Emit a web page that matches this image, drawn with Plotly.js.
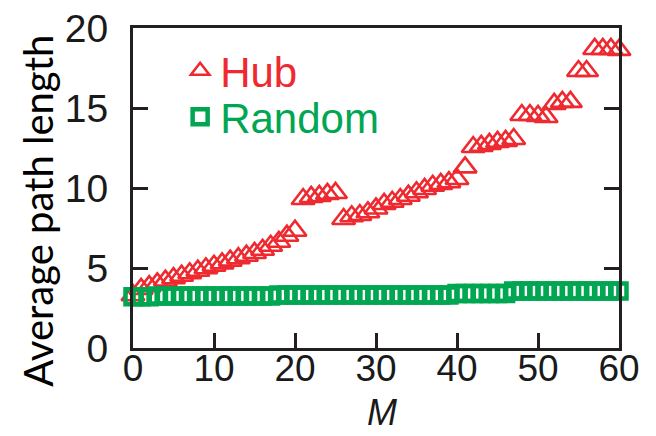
<!DOCTYPE html>
<html>
<head>
<meta charset="utf-8">
<script src="https://cdn.plot.ly/plotly-3.0.1.min.js"></script>
<style>
  html, body { margin: 0; padding: 0; background: #ffffff; }
  #chart { width: 656px; height: 436px; }
</style>
</head>
<body>
<div id="chart"></div>
<script>
// M values (x categories)
const mValues = [0,1,2,3,4,5,6,7,8,9,10,11,12,13,14,15,16,17,18,19,20,
  21,22,23,24,25,26,27,28,29,30,31,32,33,34,35,36,37,38,39,40,
  41,42,43,44,45,46,47,48,49,50,51,52,53,54,55,56,57,58,59,60];

// Average path length, Hub
const hubValues = [3.3,3.69,3.86,4.04,4.21,4.36,4.52,4.67,4.83,4.98,5.14,
  5.29,5.46,5.61,5.77,5.94,6.14,6.39,6.64,7.02,7.33,
  9.31,9.44,9.5,9.63,9.69,8.06,8.23,8.31,8.48,8.72,
  9.0,9.14,9.31,9.52,9.73,9.94,10.14,10.25,10.36,10.56,
  11.29,12.56,12.63,12.75,12.88,12.94,13.06,14.56,14.56,14.5,
  14.44,15.25,15.38,15.38,17.31,17.31,18.69,18.69,18.69,18.63];

// Average path length, Random
const randomValues = [3.2,3.2,3.2,3.25,3.25,3.25,3.25,3.25,3.25,3.25,3.25,
  3.25,3.25,3.25,3.25,3.25,3.25,3.25,3.31,3.31,3.31,
  3.31,3.31,3.31,3.31,3.31,3.31,3.31,3.31,3.31,3.31,
  3.31,3.31,3.31,3.31,3.31,3.31,3.31,3.31,3.31,3.4,
  3.4,3.4,3.4,3.4,3.4,3.4,3.56,3.56,3.56,3.56,
  3.56,3.56,3.56,3.56,3.56,3.56,3.56,3.56,3.56,3.56];

const xTicks = [0,10,20,30,40,50,60];
const yTicks = [0,5,10,15,20];

const RED = '#ee2a30';
const GREEN = '#00a651';

const traces = [
  {
    x: mValues, y: hubValues, name: 'Hub', type: 'scatter', mode: 'markers',
    cliponaxis: false, legend: 'legend',
    marker: { symbol: 'triangle-up-open', size: 20, color: RED, line: { width: 2.6, color: RED } }
  },
  {
    x: mValues, y: randomValues, name: 'Random', type: 'scatter', mode: 'markers',
    cliponaxis: false, legend: 'legend2',
    marker: { symbol: 'square-open', size: 15, color: GREEN, line: { width: 4.5, color: GREEN } }
  }
];

const yTickFont = { family: 'Liberation Sans, Arial, sans-serif', size: 39, color: '#1a1a1a' };
const xTickFont = { family: 'Liberation Sans, Arial, sans-serif', size: 37, color: '#1a1a1a' };

const layout = {
  width: 656, height: 436,
  margin: { l: 133, r: 37, t: 28, b: 88, pad: 0 },
  paper_bgcolor: '#ffffff', plot_bgcolor: '#ffffff',
  showlegend: true,
  legend: {
    x: 0.097, y: 0.972, xanchor: 'left', yanchor: 'top',
    bgcolor: 'rgba(0,0,0,0)', borderwidth: 0,
    font: { family: 'Liberation Sans, Arial, sans-serif', size: 42, color: RED }
  },
  legend2: {
    x: 0.097, y: 0.828, xanchor: 'left', yanchor: 'top',
    bgcolor: 'rgba(0,0,0,0)', borderwidth: 0,
    font: { family: 'Liberation Sans, Arial, sans-serif', size: 42, color: GREEN }
  },
  xaxis: {
    range: [0, 60], tickmode: 'array', tickvals: xTicks, ticktext: xTicks.map(String),
    ticks: 'inside', ticklen: 15, tickwidth: 3, tickcolor: '#231f20',
    showline: true, linewidth: 3, linecolor: '#231f20', mirror: true,
    showgrid: false, zeroline: false, tickfont: xTickFont, ticklabelstandoff: -14
  },
  yaxis: {
    range: [0, 20], tickmode: 'array', tickvals: yTicks, ticktext: yTicks.map(String),
    ticks: 'inside', ticklen: 15, tickwidth: 3, tickcolor: '#231f20',
    showline: true, linewidth: 3, linecolor: '#231f20', mirror: 'ticks',
    showgrid: false, zeroline: false, tickfont: yTickFont, ticklabelstandoff: 14
  },
  annotations: [
    {
      text: 'Average path length', textangle: -90, showarrow: false,
      xref: 'paper', yref: 'paper', x: -0.195, y: 0.43,
      xanchor: 'center', yanchor: 'middle',
      font: { family: 'Lato, Open Sans, sans-serif', size: 40, color: '#000000' }
    },
    {
      text: '<i>M</i>', showarrow: false,
      xref: 'paper', yref: 'paper', x: 0.512, y: -0.2,
      xanchor: 'center', yanchor: 'middle',
      font: { family: 'Liberation Sans, Arial, sans-serif', size: 36, color: '#1a1a1a' }
    }
  ]
};

Plotly.newPlot('chart', traces, layout, { displayModeBar: false, staticPlot: true });
</script>
</body>
</html>
